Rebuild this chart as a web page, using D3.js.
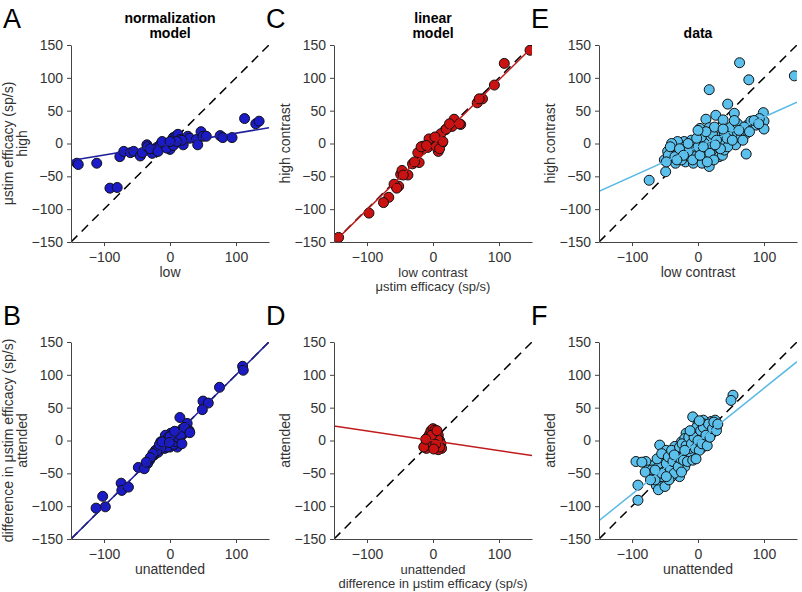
<!DOCTYPE html>
<html>
<head>
<meta charset="utf-8">
<script src="https://cdn.jsdelivr.net/npm/d3@7"></script>
<style>
  body { margin: 0; background: #fff; }
  svg { font-family: "Liberation Sans", Arial, sans-serif; }
  .axis path, .axis line { stroke: #444; }
  .axis text { fill: #333; font-size: 14px; font-family: "Liberation Sans", Arial, sans-serif; }
</style>
</head>
<body>
<svg id="chart" width="802" height="592"></svg>
<script>
// ---- data ----
const xTicks = [-100, 0, 100];
const yTicks = [-150, -100, -50, 0, 50, 100, 150];

// A: normalization model, high vs low contrast
const normHighLow = [[-141,-30],[-139,-32],[-111,-30],[-91,-68],[-80,-67],[-76,-20],[-70,-12],[-60,-14],[-55,-12],
  [-45,-19],[-42,-14],[-35,-2],[-34,-5],[-27,-15],[-22,-9],[-20,-6],[-16,-5],[-14,-1],[-10,1],[-8,-4],[-3,-2],
  [0,-9],[3,5],[5,9],[9,11],[12,14],[15,6],[20,-2],[27,11],[30,8],[40,6],[42,-2],[47,18],[50,11],[55,11],
  [76,12],[80,9],[94,9],[113,38],[130,30],[135,34],[-30,-8],[-18,-12],[-5,-7],[8,1],[5,-3],[18,5],[-12,3],[10,3],[0,3]];

// B: normalization model, attended vs unattended difference
const normAttUnatt = [[110,113],[111,107],[75,81],[50,60],[58,57],[49,47],[15,35],[26,26],[29,15],[19,18],[9,13],
  [1,11],[-4,6],[-9,1],[-14,-2],[4,1],[14,3],[11,-10],[-2,-5],[-17,-10],[-22,-15],[-24,-22],[-31,-30],[-34,-35],
  [-48,-41],[-39,-43],[-74,-65],[-73,-76],[-63,-71],[-102,-85],[-98,-101],[-112,-103],[-5,-8],[5,-4],[-10,-5],
  [0,-10],[10,5],[-7,8],[15,0],[20,10],[24,15],[-18,-18],[-28,-25],[-3,3],[6,8],[-12,-10],[3,-2],[12,12],
  [-8,-12],[-6,0],[-4,-10],[-2,5],[2,0],[4,10],[6,-6],[8,3],[10,-2],[12,5],[16,8],[18,-5],[-14,-12],[-20,-16],
  [-26,-20],[-30,-26],[-36,-33],[-16,-6],[-12,-2],[0,6],[-1,-3],[7,14],[22,20],[30,12]];

// C: linear model, high vs low contrast
const linHighLow = [[147,142],[108,122],[93,89],[75,68],[67,62],[42,29],[32,37],[29,26],[19,21],[14,1],[12,15],
  [8,4],[8,-12],[2,-2],[-1,4],[-6,7],[-8,-6],[-15,-4],[-16,-9],[-23,-14],[-21,-29],[-31,-31],[-38,-48],[-49,-47],
  [-47,-41],[-52,-65],[-59,-62],[-67,-82],[-75,-90],[-97,-106],[-143,-143],[-55,-68],[-28,-28],[-18,-5],[5,-5],
  [10,-8],[15,3],[20,22],[25,30],[40,30],[70,68],[-10,-3],[3,10],[-45,-48]];

// D: linear model, attended vs unattended difference
const linAttUnatt = [[-12,-8],[-10,-12],[-8,5],[-5,10],[-3,15],[0,18],[3,16],[5,12],[8,8],[10,0],[12,-5],[13,-12],
  [8,-14],[3,-10],[0,-5],[-3,-2],[-6,0],[2,4],[5,-2],[-9,-4],[-14,-10],[7,2],[10,-10],[-2,8],[4,-6],[-11,2],[6,15],[1,-13]];

// E: data, high vs low contrast
const dataHighLow = [[45,60],[55,46],[27,43],[12,37],[38,36],[3,23],[17,24],[2,13],[-11,3],[-21,3],[-26,-7],[-39,-10],
  [-46,-12],[-51,-25],[-34,-30],[-19,-28],[-7,-30],[6,-30],[17,-35],[-13,-20],[-3,-15],[9,-12],[22,-10],[32,-20],
  [37,-18],[30,-5],[42,3],[47,13],[60,15],[57,-2],[73,-16],[75,28],[80,34],[88,28],[99,47],[100,34],[100,22],[93,38],
  [73,15],[65,8],[17,8],[7,3],[32,10],[40,14],[22,14],[-6,-10],[-19,-10],[-31,3],[-45,-18],[-49,-43],[-74,-56],
  [17,82],[63,123],[77,97],[146,103],[-30,-15],[-20,-5],[-10,5],[0,-5],[10,0],[20,-5],[30,0],[40,-10],[-5,-20],
  [15,-20],[25,25],[50,25],[60,30],[-40,0],[-25,-25],[5,10],[35,5],[45,-5],[-15,-12],[70,25],
  [-42,-5],[-35,-20],[-28,-8],[-22,-18],[-15,0],[-8,-25],[-2,8],[3,-18],[8,-5],[12,18],[18,-15],[24,-25],[28,5],
  [34,-8],[38,22],[44,8],[52,5],[55,35],[62,20],[68,5],[78,18],[85,35],[92,30],[-48,-28],[-32,-25],[0,20],[14,-28],[26,-2]];

// F: data, attended vs unattended difference
const dataAttUnatt = [[53,69],[50,61],[-8,36],[20,29],[28,21],[10,16],[0,11],[15,3],[-18,11],[-25,-2],[-15,-7],[-5,-9],
  [5,-12],[-30,-15],[-38,-20],[-58,-7],[-51,-25],[-43,-32],[-30,-32],[-20,-25],[-10,-15],[-56,-32],[-66,-37],
  [-79,-32],[-94,-32],[-76,-45],[-66,-50],[-56,-42],[-58,-55],[-46,-50],[-33,-45],[-28,-55],[-51,-60],[-58,-63],
  [-56,-70],[-63,-69],[-91,-68],[-91,-91],[20,21],[26,31],[8,31],[0,26],[10,1],[-20,3],[-35,-9],[-23,-17],
  [-45,-40],[-40,-25],[-50,-45],[-35,-38],[-25,-35],[-15,-20],[-5,-20],[5,5],[15,15],[-10,-25],[0,-5],[20,10],
  [-60,-40],[-40,-55],[-20,-40],[-30,-20],[-5,15],[10,25],[25,20],[-48,-15],
  [-70,-45],[-65,-60],[-62,-28],[-55,-20],[-52,-48],[-48,-35],[-45,-25],[-42,-45],[-40,-15],[-38,-32],[-36,-50],
  [-32,-25],[-30,-40],[-28,-10],[-26,-28],[-24,-5],[-22,-30],[-18,-8],[-16,-32],[-14,5],[-12,-12],[-10,-5],
  [-8,-30],[-6,5],[-4,-12],[-2,20],[0,0],[2,-15],[4,15],[6,-5],[8,20],[12,8],[14,-8],[16,25],[18,5],[22,18],
  [24,28],[28,15],[30,25],[-85,-33],[-80,-48],[-72,-60],[-60,-75],[-50,-70],[-44,-60],[-36,-22],[-20,-15],
  [-12,15],[2,30],[-3,-28],[-25,-48],[-55,-50],[-65,-45],[-48,-55]];

// fitted regression lines (slope, intercept) per panel A-F
const fitSlopes = [0.167, 1.0, 0.99, -0.15, 0.453, 0.807];
const fitIntercepts = [-1, 0, -2, -0.5, -5, -1];

const panelLetters = ['A', 'B', 'C', 'D', 'E', 'F'];
const titles = [['normalization', 'model'], [], ['linear', 'model'], [], ['data'], []];
const yLabels = [['μstim efficacy (sp/s)', 'high'], ['difference in μstim efficacy (sp/s)', 'attended'],
  ['high contrast'], ['attended'], ['high contrast'], ['attended']];
const xLabels = [['low'], ['unattended'], ['low contrast', 'μstim efficacy (sp/s)'],
  ['unattended', 'difference in μstim efficacy (sp/s)'], ['low contrast'], ['unattended']];
const datasets = [normHighLow, normAttUnatt, linHighLow, linAttUnatt, dataHighLow, dataAttUnatt];

// ---- layout ----
const colLeft = [71, 334, 599];
const rowTop = [45, 342];
const W = 198, H = 197;
const fills = ['#1b1bc8', '#1b1bc8', '#cc1111', '#cc1111', '#5bc0ec', '#5bc0ec'];
const lineColors = ['#1f1f9e', '#1f1f9e', '#c01a1a', '#c01a1a', '#5ab9e5', '#5ab9e5'];

const svg = d3.select('#chart');

datasets.forEach((data, i) => {
  const col = Math.floor(i / 2), row = i % 2;
  const left = colLeft[col], top = rowTop[row];
  const g = svg.append('g').attr('transform', `translate(${left},${top})`);

  const x = d3.scaleLinear().domain([-150, 150]).range([0, W]);
  const y = d3.scaleLinear().domain([-150, 150]).range([H, 0]);

  g.append('clipPath').attr('id', 'clip' + i)
    .append('rect').attr('width', W).attr('height', H);

  const plot = g.append('g').attr('clip-path', `url(#clip${i})`);

  // identity line
  plot.append('line')
    .attr('x1', x(-150)).attr('y1', y(-150))
    .attr('x2', x(150)).attr('y2', y(150))
    .attr('stroke', '#000').attr('stroke-width', 1.5)
    .attr('stroke-dasharray', '9,6');

  plot.selectAll('circle')
    .data(data)
    .join('circle')
    .attr('cx', d => x(d[0]))
    .attr('cy', d => y(d[1]))
    .attr('r', 5)
    .attr('fill', fills[i])
    .attr('stroke', '#111')
    .attr('stroke-width', 1);

  // regression line
  const f = v => fitSlopes[i] * v + fitIntercepts[i];
  plot.append('line')
    .attr('x1', x(-150)).attr('y1', y(f(-150)))
    .attr('x2', x(150)).attr('y2', y(f(150)))
    .attr('stroke', lineColors[i]).attr('stroke-width', 1.5);

  // axes
  g.append('g').attr('class', 'axis')
    .attr('transform', `translate(0,${H})`)
    .call(d3.axisBottom(x).tickValues(xTicks).tickSize(4).tickSizeOuter(0).tickPadding(6));
  g.append('g').attr('class', 'axis')
    .call(d3.axisLeft(y).tickValues(yTicks).tickSize(4).tickSizeOuter(0).tickPadding(4));

  // panel letter
  svg.append('text')
    .attr('x', left - 68).attr('y', top - 17)
    .attr('font-size', 27).attr('fill', '#000')
    .text(panelLetters[i]);

  // title
  titles[i].forEach((t, k) => {
    const n = titles[i].length;
    g.append('text')
      .attr('x', W / 2).attr('y', -7 - (n - 1 - k) * 15)
      .attr('text-anchor', 'middle')
      .attr('font-size', 14).attr('font-weight', 'bold')
      .text(t);
  });

  // x label (two-line labels set slightly smaller so the lines stay apart)
  const xl = xLabels[i];
  xl.forEach((t, k) => {
    g.append('text')
      .attr('x', W / 2).attr('y', H + 35 + k * 14)
      .attr('text-anchor', 'middle')
      .attr('font-size', xl.length > 1 ? 13 : 14).attr('fill', '#333')
      .text(t);
  });

  // y label (inner line closest to axis)
  const yl = yLabels[i];
  yl.forEach((t, k) => {
    const off = 44 + (yl.length - 1 - k) * 14;
    g.append('text')
      .attr('transform', `translate(${-off},${H / 2}) rotate(-90)`)
      .attr('text-anchor', 'middle')
      .attr('font-size', 14).attr('fill', '#333')
      .text(t);
  });
});
</script>
</body>
</html>
